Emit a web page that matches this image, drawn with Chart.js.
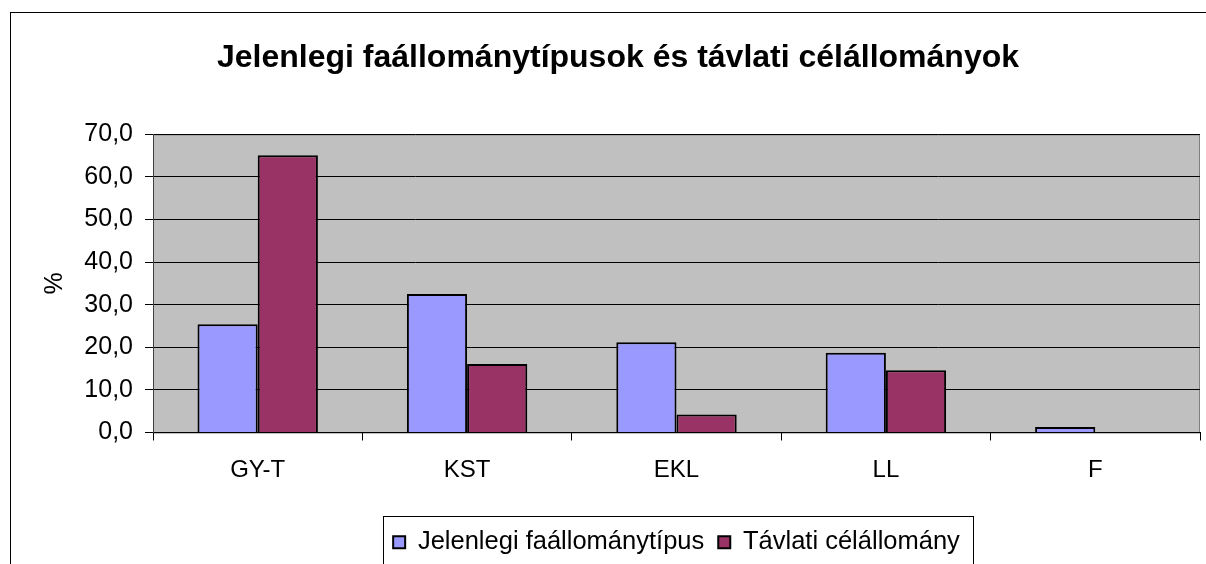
<!DOCTYPE html>
<html>
<head>
<meta charset="utf-8">
<script src="https://cdn.jsdelivr.net/npm/chart.js@4.4.1/dist/chart.umd.min.js"></script>
<style>
  body { margin: 0; background: #fff; }
  #wrap { width: 1206px; height: 564px; overflow: hidden; position: relative; }
  #mychart { position: absolute; left: 0; top: 0; }
</style>
</head>
<body>
<div id="wrap"><canvas id="mychart" width="1220" height="590"></canvas></div>
<script>
// chart data --
const categories = ["GY-T", "KST", "EKL", "LL", "F"];
const jelenlegi = [25.4, 32.5, 21.2, 18.7, 1.3];
const tavlati = [65.1, 16.1, 4.2, 14.6, 0];
const seriesNames = ["Jelenlegi faállománytípus", "Távlati célállomány"];
const yTicks = { min: 0, max: 70, step: 10 };

const fontName = "'Liberation Sans', Arial, sans-serif";

// white page, outer frame and the grey plot area
const bgFrame = {
    id: 'bgFrame',
    beforeDraw: (chart) => {
        const {ctx, width, height, chartArea} = chart;
        ctx.save();
        ctx.fillStyle = '#ffffff';
        ctx.fillRect(0, 0, width, height);
        ctx.strokeStyle = '#000000';
        ctx.lineWidth = 1;
        ctx.strokeRect(10.5, 12.5, 1204, 570);
        ctx.fillStyle = '#c0c0c0';
        ctx.fillRect(chartArea.left, chartArea.top, chartArea.right - chartArea.left, chartArea.bottom - chartArea.top);
        ctx.strokeStyle = '#808080';
        ctx.strokeRect(chartArea.left + 0.5, chartArea.top + 0.5, chartArea.right - chartArea.left - 1, chartArea.bottom - chartArea.top);
        ctx.restore();
    },
    afterDraw: (chart) => {
        // box round the legend
        const lg = chart.legend;
        if (!lg || !lg.legendHitBoxes.length) return;
        const boxes = lg.legendHitBoxes;
        const l = Math.min(...boxes.map(b => b.left)) - 10;
        const r = Math.max(...boxes.map(b => b.left + b.width)) + 13;
        const ctx = chart.ctx;
        ctx.save();
        ctx.strokeStyle = '#000000';
        ctx.lineWidth = 1;
        ctx.strokeRect(Math.round(l) + 0.5, Math.round(lg.top) + 0.5, Math.round(r - l), 60);
        ctx.restore();
    }
};

const options = {
    type: 'bar',
    data: {
        labels: categories,
        datasets: [{
            label: seriesNames[0],
            data: jelenlegi,
            backgroundColor: '#9999ff',
            borderColor: '#000000',
            borderWidth: 2,
            categoryPercentage: 0.575,
            barPercentage: 1.0
        }, {
            label: seriesNames[1],
            data: tavlati,
            backgroundColor: '#993366',
            borderColor: '#000000',
            borderWidth: 2,
            categoryPercentage: 0.575,
            barPercentage: 1.0
        }]
    },
    options: {
        responsive: false,
        animation: false,
        layout: { padding: { left: 36, right: 20, top: 12, bottom: 25 } },
        plugins: {
            tooltip: { enabled: false },
            title: {
                display: true,
                text: 'Jelenlegi faállománytípusok és távlati célállományok',
                color: '#000000',
                font: { family: fontName, size: 32, weight: 'bold' },
                padding: { top: 27, bottom: 57 }
            },
            legend: {
                position: 'bottom',
                fullSize: false,
                labels: {
                    color: '#000000',
                    font: { family: fontName, size: 25.5 },
                    boxWidth: 12,
                    boxHeight: 12,
                    padding: 14
                }
            }
        },
        scales: {
            x: {
                grid: {
                    display: true,
                    drawOnChartArea: false,
                    drawTicks: true,
                    tickLength: 8,
                    color: '#000000'
                },
                border: { color: '#000000' },
                ticks: {
                    color: '#000000',
                    font: { family: fontName, size: 24 },
                    padding: 15
                },
                afterFit: (scale) => { scale.height = 83; }
            },
            y: {
                min: yTicks.min,
                max: yTicks.max,
                grid: {
                    color: '#000000',
                    tickLength: 8
                },
                border: { color: '#404040' },
                ticks: {
                    stepSize: yTicks.step,
                    color: '#000000',
                    font: { family: fontName, size: 25 },
                    padding: 12,
                    callback: (v) => v.toFixed(1).replace('.', ',')
                },
                title: {
                    display: true,
                    text: '%',
                    color: '#000000',
                    font: { family: fontName, size: 25 },
                    padding: { top: 4, bottom: 0 }
                },
                afterFit: (scale) => { scale.width = 117; }
            }
        }
    },
    plugins: [bgFrame]
};

const ctx = document.getElementById('mychart').getContext('2d');
let chart = new Chart(ctx, options);
</script>
</body>
</html>
